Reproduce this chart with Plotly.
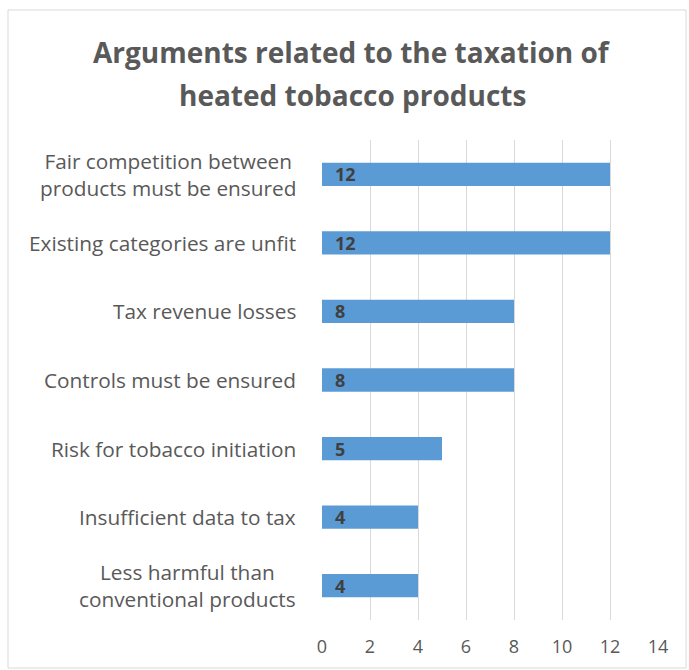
import plotly.graph_objects as go

categories = [
    "Fair competition between<br>products must be ensured",
    "Existing categories are unfit",
    "Tax revenue losses",
    "Controls must be ensured",
    "Risk for tobacco initiation",
    "Insufficient data to tax",
    "Less harmful than<br>conventional products",
]
values = [12, 12, 8, 8, 5, 4, 4]
x_ticks = [0, 2, 4, 6, 8, 10, 12, 14]
title_lines = ["Arguments related to the taxation of", "heated tobacco products"]

FONT = "Open Sans"
W, H = 689, 670
L, R, T, B = 322, 31, 140, 50
pw, ph = W - L - R, H - T - B

fig = go.Figure()
fig.add_trace(go.Bar(
    y=categories, x=values, orientation="h",
    marker=dict(color="#5B9BD5", line=dict(width=0)),
    width=0.34, hoverinfo="skip",
))

annotations = []
for c, v in zip(categories, values):
    annotations.append(dict(
        x=0, y=c, xref="x", yref="y", text=f"<b>{v}</b>", showarrow=False,
        xanchor="left", xshift=11, font=dict(family=FONT, size=18, color="#404040"),
    ))
    annotations.append(dict(
        x=(298 - L) / pw, y=c, xref="paper", yref="y", text=c, showarrow=False,
        xanchor="right", align="center", yanchor="middle",
        font=dict(family=FONT, size=20.8, color="#595959"),
    ))
for i, line in enumerate(title_lines):
    annotations.append(dict(
        x=(352 - L) / pw, y=(H - B - (52 + 43 * i)) / ph, xref="paper", yref="paper",
        text=f"<b>{line}</b>", showarrow=False, xanchor="center", yanchor="middle",
        font=dict(family=FONT, size=28, color="#595959"),
    ))

fig.update_layout(
    width=W, height=H,
    margin=dict(l=L, r=R, t=T, b=B, autoexpand=False),
    paper_bgcolor="white", plot_bgcolor="white",
    showlegend=False,
    annotations=annotations,
    font=dict(family=FONT, color="#595959", size=18),
    xaxis=dict(range=[0, 14], tickvals=x_ticks, showgrid=True, gridcolor="#D9D9D9",
               gridwidth=1, zeroline=False, showline=False, ticks="",
               ticklabelstandoff=14,
               tickfont=dict(size=18, color="#595959")),
    yaxis=dict(autorange="reversed", showgrid=False, showline=False, ticks="",
               showticklabels=False),
    shapes=[dict(type="rect", xref="paper", yref="paper",
                 x0=(8 - L) / pw, x1=(686 - L) / pw,
                 y0=(H - B - 668) / ph, y1=(H - B - 10) / ph,
                 line=dict(color="#D9D9D9", width=1), fillcolor="rgba(0,0,0,0)")],
)

fig.write_html("out.html", config={"displayModeBar": False},
               post_script="document.body.style.margin='0px';")
